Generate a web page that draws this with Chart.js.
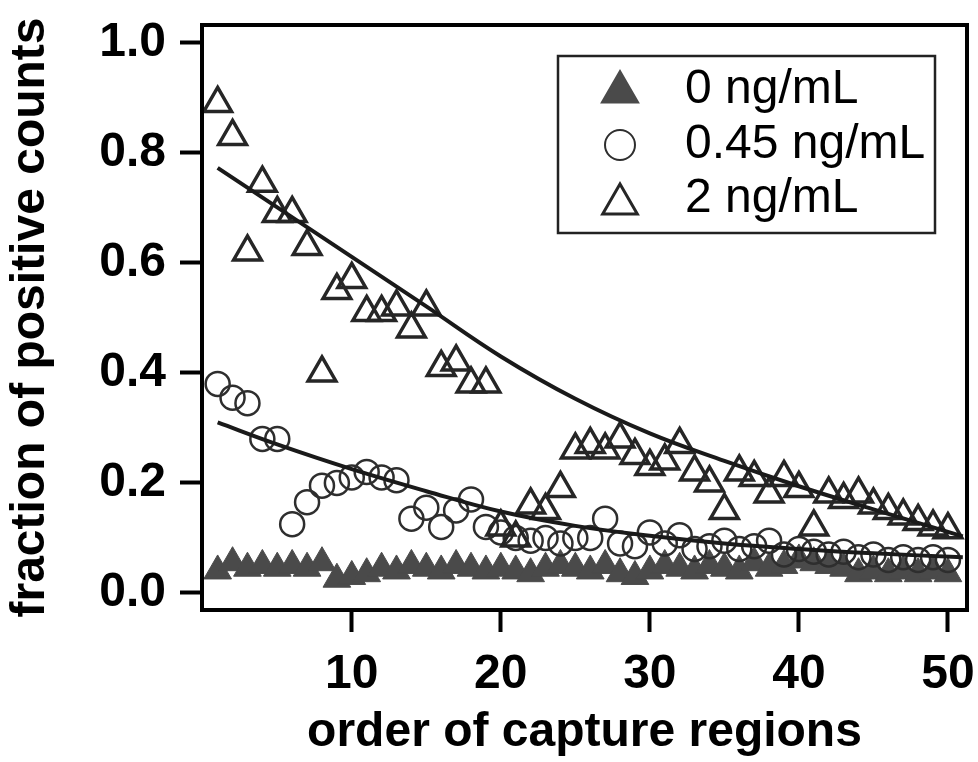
<!DOCTYPE html>
<html>
<head>
<meta charset="utf-8">
<script src="https://cdn.jsdelivr.net/npm/chart.js@4.4.0/dist/chart.umd.min.js"></script>
<style>
  html, body { margin: 0; padding: 0; background: #fff; }
  canvas { display: block; }
</style>
</head>
<body>
<canvas id="plot" width="978" height="762"></canvas>
<script>
// order of capture regions
var regions = [1, 2, 3, 4, 5, 6, 7, 8, 9, 10, 11, 12, 13, 14, 15, 16, 17, 18, 19, 20,
               21, 22, 23, 24, 25, 26, 27, 28, 29, 30, 31, 32, 33, 34, 35, 36, 37, 38, 39, 40,
               41, 42, 43, 44, 45, 46, 47, 48, 49, 50];

// fraction of positive counts, one value per region
var dose0 = [0.04, 0.055, 0.045, 0.05, 0.045, 0.05, 0.045, 0.055, 0.025, 0.03,
             0.035, 0.045, 0.04, 0.05, 0.045, 0.04, 0.05, 0.045, 0.04, 0.045,
             0.04, 0.035, 0.045, 0.05, 0.045, 0.04, 0.05, 0.035, 0.03, 0.04,
             0.05, 0.045, 0.04, 0.05, 0.045, 0.04, 0.055, 0.045, 0.05, 0.06,
             0.055, 0.05, 0.045, 0.035, 0.04, 0.035, 0.04, 0.035, 0.04, 0.035];
var dose045 = [0.38, 0.355, 0.345, 0.28, 0.28, 0.125, 0.165, 0.195, 0.2, 0.21,
               0.22, 0.21, 0.205, 0.135, 0.155, 0.12, 0.15, 0.17, 0.12, 0.11,
               0.1, 0.095, 0.1, 0.09, 0.1, 0.1, 0.135, 0.09, 0.085, 0.11,
               0.09, 0.105, 0.08, 0.085, 0.095, 0.08, 0.085, 0.095, 0.07, 0.08,
               0.075, 0.07, 0.075, 0.065, 0.07, 0.06, 0.065, 0.06, 0.065, 0.06];
var dose2 = [0.89, 0.83, 0.62, 0.745, 0.69, 0.69, 0.63, 0.4, 0.55, 0.57,
             0.51, 0.51, 0.52, 0.48, 0.52, 0.41, 0.42, 0.38, 0.38, 0.12,
             0.1, 0.16, 0.15, 0.19, 0.26, 0.27, 0.26, 0.28, 0.25, 0.23,
             0.24, 0.27, 0.22, 0.2, 0.15, 0.22, 0.21, 0.18, 0.21, 0.19,
             0.12, 0.18, 0.17, 0.18, 0.16, 0.15, 0.14, 0.13, 0.12, 0.115];

// fitted decay curves
var fitX = [1, 5, 10, 15, 20, 25, 30, 35, 40, 45, 51];
var fit045 = [0.31, 0.27, 0.225, 0.185, 0.148, 0.122, 0.104, 0.09, 0.08, 0.072, 0.065];
var fit2 = [0.773, 0.701, 0.611, 0.521, 0.43, 0.353, 0.29, 0.24, 0.194, 0.152, 0.103];

var seriesNames = ['0 ng/mL', '0.45 ng/mL', '2 ng/mL'];
var xTicks = [10, 20, 30, 40, 50];
var yTicks = [0, 0.2, 0.4, 0.6, 0.8, 1.0];

function pairs(xs, ys) {
  return ys.map(function (v, i) { return { x: xs[i], y: v }; });
}

var FONT = "'Liberation Sans', Arial, sans-serif";

var markerStyles = [
  { pointStyle: 'triangle', radius: 16, fill: '#4a4a4a', stroke: '#4a4a4a', width: 1 },
  { pointStyle: 'circle', radius: 12, fill: 'rgba(0,0,0,0)', stroke: '#2e2e2e', width: 2.5 },
  { pointStyle: 'triangle', radius: 16, fill: 'rgba(0,0,0,0)', stroke: '#262626', width: 3.5 }
];

function pointSet(name, ys, st, ord) {
  return {
    label: name,
    data: pairs(regions, ys),
    pointStyle: st.pointStyle,
    pointRadius: st.radius,
    pointBackgroundColor: st.fill,
    pointBorderColor: st.stroke,
    pointBorderWidth: st.width,
    showLine: false,
    order: ord
  };
}

function fitSet(ys) {
  return {
    label: 'fit',
    data: pairs(fitX, ys),
    showLine: true,
    borderColor: '#1a1a1a',
    borderWidth: 4,
    pointRadius: 0,
    tension: 0.4,
    fill: false,
    order: 0
  };
}

// thick box round the plot area
var framePlugin = {
  id: 'frame',
  afterDatasetsDraw: function (chart) {
    var a = chart.chartArea, ctx = chart.ctx;
    ctx.save();
    ctx.strokeStyle = '#000';
    ctx.lineWidth = 4;
    ctx.strokeRect(a.left, a.top, a.right - a.left, a.bottom - a.top);
    ctx.restore();
  }
};

// boxed legend in the upper right of the plot
var legendPlugin = {
  id: 'boxLegend',
  afterDraw: function (chart) {
    var a = chart.chartArea, ctx = chart.ctx;
    var right = a.right - 32, top = a.top + 31, w = 377, h = 177;
    var left = right - w;
    ctx.save();
    ctx.fillStyle = '#fff';
    ctx.fillRect(left, top, w, h);
    ctx.strokeStyle = '#222';
    ctx.lineWidth = 2.5;
    ctx.strokeRect(left, top, w, h);
    var rowY = [top + 34, top + 89, top + 143];
    var big = [20, 15, 20];
    var nudge = [2, 0, 5];
    seriesNames.forEach(function (name, i) {
      var st = markerStyles[i];
      ctx.fillStyle = st.fill;
      ctx.strokeStyle = st.stroke;
      ctx.lineWidth = i === 1 ? 2 : 3;
      Chart.helpers.drawPoint(ctx, {
        pointStyle: st.pointStyle, radius: big[i], rotation: 0, borderWidth: i === 1 ? 2 : 3
      }, left + 62, rowY[i] + nudge[i]);
      ctx.fillStyle = '#000';
      ctx.font = "48px " + FONT;
      ctx.textBaseline = 'middle';
      ctx.textAlign = 'left';
      ctx.fillText(name, left + 127, rowY[i]);
    });
    ctx.restore();
  }
};

new Chart(document.getElementById('plot'), {
  type: 'scatter',
  data: {
    datasets: [
      fitSet(fit2),
      fitSet(fit045),
      pointSet(seriesNames[2], dose2, markerStyles[2], 1),
      pointSet(seriesNames[1], dose045, markerStyles[1], 2),
      pointSet(seriesNames[0], dose0, markerStyles[0], 3)
    ]
  },
  options: {
    responsive: false,
    animation: false,
    devicePixelRatio: 1,
    layout: { autoPadding: false, padding: { top: 25, right: 11, left: 0, bottom: 0 } },
    plugins: {
      legend: { display: false },
      tooltip: { enabled: false }
    },
    scales: {
      x: {
        type: 'linear',
        min: -0.05,
        max: 51.28,
        afterBuildTicks: function (s) { s.ticks = xTicks.map(function (v) { return { value: v }; }); },
        afterFit: function (s) { s.height = 152; s.paddingLeft = 0; s.paddingRight = 0; },
        border: { display: false },
        grid: { display: true, drawOnChartArea: false, drawTicks: true, tickLength: 22, tickWidth: 4, tickColor: '#000' },
        ticks: {
          color: '#000',
          padding: 14,
          maxRotation: 0,
          font: { family: FONT, size: 48, weight: 'bold' },
          callback: function (v) { return String(v); }
        },
        title: {
          display: true,
          text: 'order of capture regions',
          color: '#000',
          padding: { top: 0, bottom: 0 },
          font: { family: FONT, size: 48, weight: 'bold' }
        }
      },
      y: {
        type: 'linear',
        min: -0.031,
        max: 1.0327,
        afterBuildTicks: function (s) { s.ticks = yTicks.map(function (v) { return { value: v }; }); },
        afterFit: function (s) { s.width = 202; s.paddingTop = 0; s.paddingBottom = 0; },
        border: { display: false },
        grid: { display: true, drawOnChartArea: false, drawTicks: true, tickLength: 22, tickWidth: 4, tickColor: '#000' },
        ticks: {
          color: '#000',
          padding: 14,
          font: { family: FONT, size: 48, weight: 'bold' },
          callback: function (v) { return Number(v).toFixed(1); }
        },
        title: {
          display: true,
          text: 'fraction of positive counts',
          color: '#000',
          padding: { top: 2, bottom: 0 },
          font: { family: FONT, size: 48, weight: 'bold' }
        }
      }
    }
  },
  plugins: [framePlugin, legendPlugin]
});
</script>
</body>
</html>
